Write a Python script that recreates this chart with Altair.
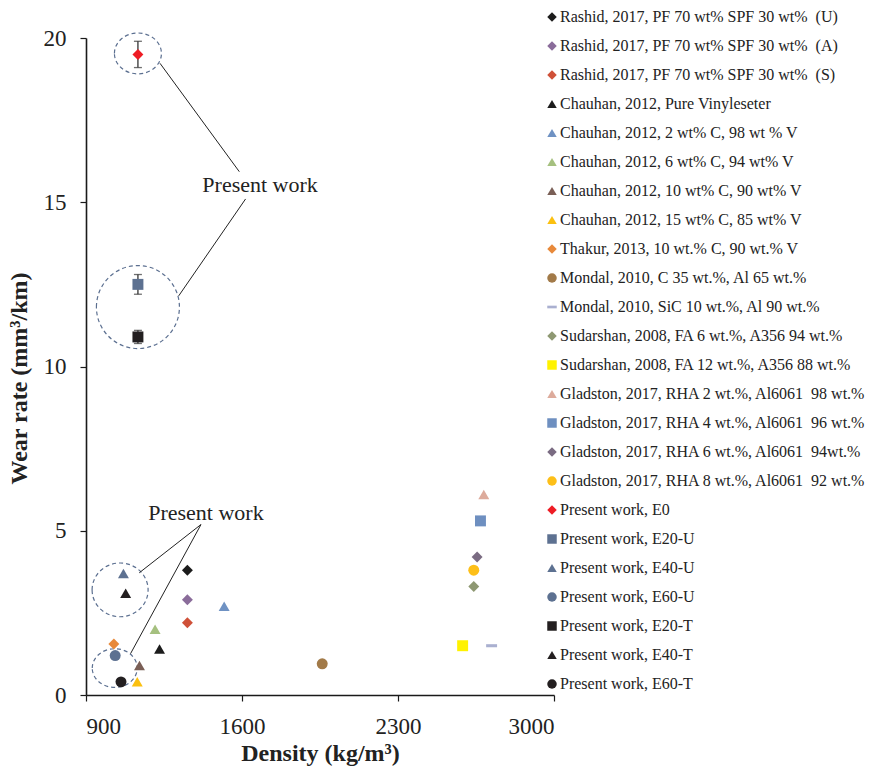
import altair as alt
import pandas as pd

NB = "\u00a0"
labels = [
    f"Rashid, 2017, PF 70 wt% SPF 30 wt% {NB}(U)",
    f"Rashid, 2017, PF 70 wt% SPF 30 wt% {NB}(A)",
    f"Rashid, 2017, PF 70 wt% SPF 30 wt% {NB}(S)",
    "Chauhan, 2012, Pure Vinyleseter",
    "Chauhan, 2012, 2 wt% C, 98 wt % V",
    "Chauhan, 2012, 6 wt% C, 94 wt% V",
    "Chauhan, 2012, 10 wt% C, 90 wt% V",
    "Chauhan, 2012, 15 wt% C, 85 wt% V",
    "Thakur, 2013, 10 wt.% C, 90 wt.% V",
    "Mondal, 2010, C 35 wt.%, Al 65 wt.%",
    "Mondal, 2010, SiC 10 wt.%, Al 90 wt.%",
    "Sudarshan, 2008, FA 6 wt.%, A356 94 wt.%",
    "Sudarshan, 2008, FA 12 wt.%, A356 88 wt.%",
    f"Gladston, 2017, RHA 2 wt.%, Al6061 {NB}98 wt.%",
    f"Gladston, 2017, RHA 4 wt.%, Al6061 {NB}96 wt.%",
    f"Gladston, 2017, RHA 6 wt.%, Al6061 {NB}94wt.%",
    f"Gladston, 2017, RHA 8 wt.%, Al6061 {NB}92 wt.%",
    "Present work, E0",
    "Present work, E20-U",
    "Present work, E40-U",
    "Present work, E60-U",
    "Present work, E20-T",
    "Present work, E40-T",
    "Present work, E60-T",
]
density = [1355, 1355, 1355, 1230, 1520, 1210, 1140, 1130, 1025, 1960, 2720, 2640,
           2590, 2685, 2670, 2655, 2640, 1133, 1133, 1068, 1031, 1133, 1078, 1057]
wear = [3.8, 2.9, 2.2, 1.4, 2.7, 2.0, 0.9, 0.4, 1.55, 0.95, 1.5, 3.3,
        1.5, 6.1, 5.3, 4.2, 3.8, 19.5, 12.5, 3.7, 1.2, 10.9, 3.1, 0.4]
wear_err = [0, 0, 0, 0, 0, 0, 0, 0, 0, 0, 0, 0,
            0, 0, 0, 0, 0, 0.4, 0.3, 0, 0, 0.2, 0, 0]

DASH = "M-1,-0.28L1,-0.28L1,0.28L-1,0.28Z"
shapes = ["diamond", "diamond", "diamond",
          "triangle-up", "triangle-up", "triangle-up", "triangle-up", "triangle-up",
          "diamond", "circle", DASH, "diamond", "square",
          "triangle-up", "square", "diamond", "circle",
          "diamond", "square", "triangle-up", "circle", "square", "triangle-up", "circle"]
colors = ["#1c1c1c", "#8a6c9a", "#cf5038",
          "#1c1c1c", "#6f92c3", "#a5c07f", "#7a5f56", "#fbc010",
          "#e8893a", "#a27a48", "#aab0d0", "#8e9872", "#fff200",
          "#ddab9c", "#6e8fc0", "#7a6b82", "#fdbf18",
          "#ee1c24", "#5d7191", "#5d7191", "#5d7191", "#231f20", "#231f20", "#231f20"]

# annotation data (in data units)
ell_x = [1133, 1133, 1053, 1029]
ell_y = [19.53, 11.81, 3.2, 0.82]
ell_w = [47, 83, 56, 45]
ell_ratio = [0.87, 1.0, 0.96, 0.86]

lead_x = [1232, 1316, 1416, 1416]
lead_y = [19.23, 12.15, 5.19, 5.19]
lead_x2 = [1588, 1616, 1139, 1100]
lead_y2 = [15.93, 15.10, 3.72, 1.26]

note_text = ["Present work", "Present work"]
note_x = [1681, 1438]
note_y = [15.52, 5.54]

FONT = "Liberation Serif"

df = pd.DataFrame({"label": labels, "density": density, "wear": wear, "err": wear_err})
df["lo"] = df["wear"] - df["err"]
df["hi"] = df["wear"] + df["err"]
df_err = df[df["err"] > 0]

xs = alt.Scale(domain=[900, 3000], nice=False, zero=False)
ys = alt.Scale(domain=[0, 20], nice=False, zero=False)

xax = alt.Axis(values=[900, 1600, 2300, 3000], format="d", title="Density (kg/m³)")
yax = alt.Axis(values=[0, 5, 10, 15, 20], title="Wear rate (mm³/km)", titleY=340)

err_rule = alt.Chart(df_err).mark_rule(color="#333333", strokeWidth=1.3).encode(
    x=alt.X("density:Q", scale=xs, axis=xax),
    y=alt.Y("lo:Q", scale=ys, axis=yax),
    y2="hi:Q",
)
err_cap_lo = alt.Chart(df_err).mark_tick(orient="horizontal", size=8, thickness=1.3, color="#333333").encode(
    x="density:Q", y="lo:Q")
err_cap_hi = alt.Chart(df_err).mark_tick(orient="horizontal", size=8, thickness=1.3, color="#333333").encode(
    x="density:Q", y="hi:Q")

points = alt.Chart(df).mark_point(filled=True, opacity=1, size=120).encode(
    x="density:Q",
    y="wear:Q",
    color=alt.Color("label:N", scale=alt.Scale(domain=labels, range=colors),
                    legend=alt.Legend(title=None, orient="none", legendX=458, legendY=-29,
                                      labelFont=FONT, labelFontSize=16, labelColor="#222222",
                                      labelLimit=400, symbolSize=90, rowPadding=13,
                                      symbolStrokeWidth=0, padding=0, labelOffset=0)),
    shape=alt.Shape("label:N", scale=alt.Scale(domain=labels, range=shapes)),
)

ellipse_layers = []
for ex, ey, ew, er in zip(ell_x, ell_y, ell_w, ell_ratio):
    path = f"M-1,0A1,{er},0,1,1,1,0A1,{er},0,1,1,-1,0Z"
    ellipse_layers.append(
        alt.Chart(pd.DataFrame({"x": [ex], "y": [ey]})).mark_point(
            shape=path, size=ew * ew, filled=False, color="#5b6f90",
            strokeWidth=1.2, strokeDash=[4, 3], opacity=1
        ).encode(x="x:Q", y="y:Q")
    )

leads = alt.Chart(pd.DataFrame({"x": lead_x, "y": lead_y, "x2": lead_x2, "y2": lead_y2})).mark_rule(
    color="#222222", strokeWidth=1).encode(x="x:Q", y="y:Q", x2="x2:Q", y2="y2:Q")

notes = alt.Chart(pd.DataFrame({"t": note_text, "x": note_x, "y": note_y})).mark_text(
    font=FONT, fontSize=22, color="#222222").encode(x="x:Q", y="y:Q", text="t:N")

chart = alt.layer(err_rule, err_cap_lo, err_cap_hi, *ellipse_layers, leads, notes, points).properties(
    width=468, height=657,
    autosize=alt.AutoSizeParams(type="none"),
    padding={"left": 86, "top": 38, "right": 321, "bottom": 74},
).configure_view(stroke=None).configure_axis(
    grid=False, domainColor="#1a1a1a", domainWidth=1.6, tickColor="#1a1a1a", tickWidth=1.2,
    tickSize=6, labelFont=FONT, labelFontSize=23, labelColor="#222222",
    titleFont=FONT, titleFontSize=24, titleFontWeight="bold", titleColor="#222222",
).configure_axisX(labelPadding=14, titlePadding=3).configure_axisY(labelPadding=14, titlePadding=12)

chart.save("out.html", embed_options={"renderer": "svg", "actions": False})
